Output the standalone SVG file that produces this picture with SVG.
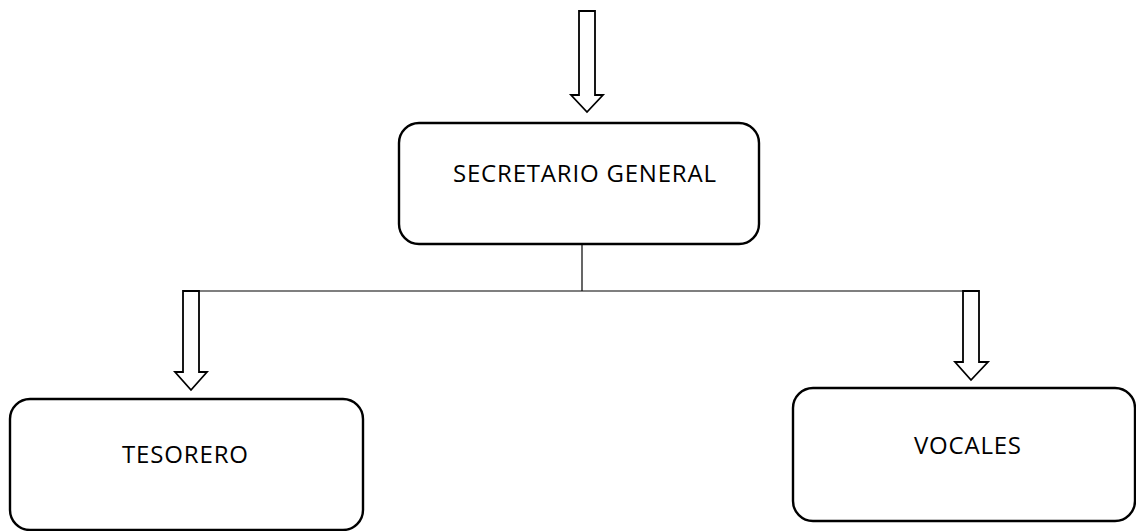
<svg xmlns="http://www.w3.org/2000/svg" width="1136" height="531" viewBox="0 0 1136 531">
  <style>
    .box { fill: #ffffff; stroke: #000000; stroke-width: 2.4; }
    .lbl { font-family: "Open Sans", "Liberation Sans", sans-serif; font-size: 24px; fill: #000000; }
    .arrow { fill: #ffffff; stroke: #000000; stroke-width: 1.8; stroke-linejoin: miter; }
    .line { stroke: #000000; stroke-width: 1.2; fill: none; }
  </style>
  <rect width="1136" height="531" fill="#ffffff"/>
  <g id="connectors">
    <path class="arrow" d="M579,11 H595 V95 H603 L587,112 L571,95 H579 Z"/>
    <line class="line" x1="582" y1="244" x2="582" y2="291"/>
    <line class="line" x1="199" y1="291" x2="963" y2="291"/>
    <path class="arrow" d="M183,291 H199 V372 H207 L191,390 L175,372 H183 Z"/>
    <path class="arrow" d="M963,291 H979 V362 H988 L971,380 L955,362 H963 Z"/>
  </g>
  <g id="secretario-general">
    <rect class="box" x="399" y="123" width="360" height="121" rx="20" ry="20"/>
    <text class="lbl" x="453" y="182" textLength="263">SECRETARIO GENERAL</text>
  </g>
  <g id="tesorero">
    <rect class="box" x="10" y="399" width="353" height="131" rx="20" ry="20"/>
    <text class="lbl" x="122" y="463" textLength="126">TESORERO</text>
  </g>
  <g id="vocales">
    <rect class="box" x="793" y="388" width="342" height="133" rx="20" ry="20"/>
    <text class="lbl" x="914" y="454" textLength="107">VOCALES</text>
  </g>
</svg>
